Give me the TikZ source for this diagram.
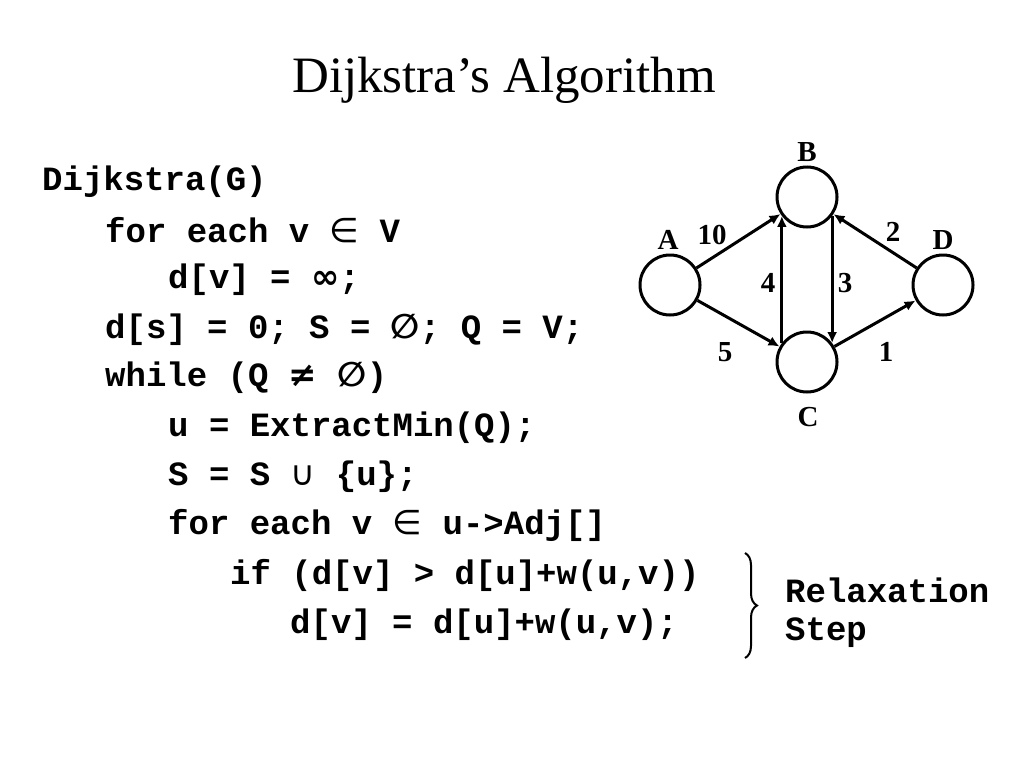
\documentclass[tikz,border=0pt]{standalone}
\usepackage{fontspec}
\setmainfont{Liberation Serif}
\setmonofont{Liberation Mono}
\newfontfamily\symf{DejaVu Sans}
\usetikzlibrary{arrows.meta,decorations.pathreplacing}
\begin{document}
\begin{tikzpicture}[x=1pt,y=-1pt,
  code/.style={anchor=west,inner sep=0pt,font=\fontsize{34}{34}\selectfont\ttfamily\bfseries},
  vert/.style={circle,draw,line width=3pt,minimum size=60pt,inner sep=0pt},
  lab/.style={font=\fontsize{29}{29}\selectfont\bfseries},
  edge/.style={line width=3pt,-{Latex[length=11pt,width=10pt]}}]
\useasboundingbox (0,0) rectangle (1024,768);
\node[font=\fontsize{51}{51}\selectfont] (title) at (504,80) {Dijkstra’s Algorithm};
\node[code] (l1) at (42,182) {Dijkstra(G)};
\node[code] (l2) at (105,230) {for each v {\symf\mdseries ∈} V};
\node[code] (l3) at (168,280) {d[v] = {\symf ∞};};
\node[code] (l4) at (105,330) {d[s] = 0; S = {\symf ∅}; Q = V;};
\node[code] (l5) at (105,378) {while (Q {\symf ≠} {\symf ∅})};
\node[code] (l6) at (168,428) {u = ExtractMin(Q);};
\node[code] (l7) at (168,477) {S = S {\symf\mdseries ∪} \{u\};};
\node[code] (l8) at (168,525) {for each v {\symf\mdseries ∈} u->Adj[]};
\node[code] (l9) at (230,575) {if (d[v] > d[u]+w(u,v))};
\node[code] (l10) at (290,625) {d[v] = d[u]+w(u,v);};
\coordinate (bt) at (745,553);
\coordinate (bb) at (745,658);
\draw[line width=2pt,decorate,decoration={brace,amplitude=12pt}] (bt) -- (bb);
\node[code] (r1) at (785,590) {Relaxation};
\node[code] (r2) at (785,633) {Step};
\node[vert] (A) at (670,285) {};
\node[vert] (B) at (807,197) {};
\node[vert] (C) at (807,362) {};
\node[vert] (D) at (943,285) {};
\node[lab] (la) at (668,240) {A};
\node[lab] (lb) at (807,152) {B};
\node[lab] (lc) at (808,417) {C};
\node[lab] (ld) at (943,240) {D};
\draw[edge] (A) -- (B);
\draw[edge] (A) -- (C);
\draw[edge] (C.143) -- (B.217);
\draw[edge] (B.323) -- (C.37);
\draw[edge] (C) -- (D);
\draw[edge] (D) -- (B);
\node[lab] (w1) at (712,235) {10};
\node[lab] (w2) at (893,232) {2};
\node[lab] (w3) at (768,283) {4};
\node[lab] (w4) at (845,283) {3};
\node[lab] (w5) at (725,352) {5};
\node[lab] (w6) at (886,352) {1};
\end{tikzpicture}
\end{document}
